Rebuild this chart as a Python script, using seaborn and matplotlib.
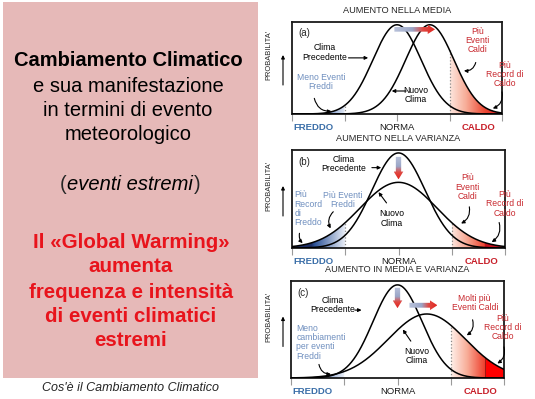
import numpy as np
import matplotlib
matplotlib.use("Agg")
import matplotlib.pyplot as plt
import seaborn as sns
from matplotlib.patches import FancyArrow, Polygon, Rectangle, FancyArrowPatch
from matplotlib.colors import LinearSegmentedColormap

# ---------------- data ----------------
panel_tags = ["(a)", "(b)", "(c)"]
panel_titles = ["AUMENTO NELLA MEDIA", "AUMENTO NELLA VARIANZA", "AUMENTO IN MEDIA E VARIANZA"]
old_mean = [0.0, 0.0, 0.0]
old_sd = [0.92, 1.0, 0.92]
old_peak = [0.97, 0.97, 0.96]
new_mean = [1.25, 0.0, 1.1]
new_sd = [0.92, 1.45, 1.45]
new_peak = [0.97, 0.67, 0.66]
tick_pos = [-4, -2, 0, 2, 4]
axis_words = ["FREDDO", "NORMA", "CALDO"]
axis_word_x = [-3.2, 0.0, 3.1]

left_black = ["Cambiamento Climatico", "e sua manifestazione", "in termini di evento", "meteorologico"]
left_italic = "eventi estremi"
left_red = ["Il «Global Warming»", "aumenta", "frequenza e intensità", "di eventi climatici", "estremi"]
caption = "Cos'è il Cambiamento Climatico"

# ---------------- style ----------------
sns.set_style("white")
plt.rcParams["font.family"] = ["Liberation Sans", "DejaVu Sans"]

W, H = 535, 399
fig = plt.figure(figsize=(W / 100, H / 100), dpi=100)
fig.patch.set_facecolor("white")


def fx(px):
    return px / W


def fy(py):
    return 1 - py / H


# ---------------- left panel ----------------
fig.patches.append(Rectangle((fx(3), fy(378)), fx(255), 376 / H, transform=fig.transFigure,
                             facecolor="#e6b9b8", edgecolor="none", zorder=0))
black_y = [61, 86, 110, 135]
for i, s in enumerate(left_black):
    fig.text(fx(128), fy(black_y[i]), s, ha="center", va="center", fontsize=14.5,
             fontweight="bold" if i == 0 else "normal", color="black")
renderer = fig.canvas.get_renderer()
ti = fig.text(fx(130), fy(185), left_italic, ha="center", va="center", fontsize=14.5,
              style="italic", color="black")
bb = ti.get_window_extent(renderer)
fig.text(bb.x0 / W - 0.002, fy(185), "(", ha="right", va="center", fontsize=14.5)
fig.text(bb.x1 / W + 0.002, fy(185), ")", ha="left", va="center", fontsize=14.5)
red_y = [242, 267, 292, 317, 341]
for i, s in enumerate(left_red):
    fig.text(fx(131), fy(red_y[i]), s, ha="center", va="center", fontsize=14.8,
             fontweight="bold", color="#e8141c")
fig.text(fx(130), fy(388), caption, ha="center", va="center", fontsize=9, style="italic")

# ---------------- right panels ----------------
boxes = [(292, 502, 22, 114), (292, 505, 150, 248), (291, 504, 281, 378)]

RED_T = "#c8282e"
BLUE_T = "#6f8fbf"
x = np.linspace(-4, 4, 801)


def grad_fill(ax, xs, ys, x0, x1, stops):
    m = (xs >= x0) & (xs <= x1)
    px = np.concatenate([[x0], xs[m], [x1]])
    py = np.concatenate([[0], ys[m], [0]])
    poly = Polygon(np.column_stack([px, py]), closed=True, facecolor="none", edgecolor="none",
                   transform=ax.transData)
    ax.add_patch(poly)
    cmap = LinearSegmentedColormap.from_list("g", stops)
    grad = np.linspace(0, 1, 512).reshape(1, -1)
    im = ax.imshow(grad, extent=[x0, x1, 0, 1], aspect="auto", cmap=cmap, origin="lower",
                   zorder=1, interpolation="bilinear")
    im.set_clip_path(poly)


def grad_arrow(ax, x0, y0, dx, dy, width, hw, hl):
    arr = FancyArrow(x0, y0, dx, dy, width=width, head_width=hw, head_length=hl,
                     length_includes_head=True, facecolor="none", edgecolor="none",
                     transform=ax.transData)
    ax.add_patch(arr)
    cmap = LinearSegmentedColormap.from_list("ar", [(0, "#b9c2da"), (0.45, "#9aa6c8"),
                                                    (0.7, "#e04a44"), (1, "#e0261f")])
    if dy == 0:
        grad = np.linspace(0, 1, 256).reshape(1, -1)
        ext = [x0, x0 + dx, y0 - hw / 2, y0 + hw / 2]
    else:
        grad = np.linspace(1, 0, 256).reshape(-1, 1)
        ext = [x0 - hw / 2, x0 + hw / 2, y0 + dy, y0]
    im = ax.imshow(grad, extent=ext, aspect="auto", cmap=cmap, origin="lower", zorder=5)
    im.set_clip_path(arr)


def note(ax, s, xy, color="black", ha="center", fs=6.2):
    ax.text(xy[0], xy[1], s, ha=ha, va="center", fontsize=fs, color=color,
            linespacing=1.05, clip_on=False, zorder=6)


def arrow(ax, tail, head, rad=0.0):
    ax.annotate("", xy=head, xytext=tail,
                arrowprops=dict(arrowstyle="-|>", color="black", lw=0.8, mutation_scale=5,
                                shrinkA=0, shrinkB=0, connectionstyle=f"arc3,rad={rad}"),
                annotation_clip=False, zorder=6)


axes = []
for i in range(3):
    l, r, t, b = boxes[i]
    ax = fig.add_axes([fx(l), fy(b), (r - l) / W, (b - t) / H])
    axes.append(ax)
    y_old = old_peak[i] * np.exp(-((x - old_mean[i]) ** 2) / (2 * old_sd[i] ** 2))
    y_new = new_peak[i] * np.exp(-((x - new_mean[i]) ** 2) / (2 * new_sd[i] ** 2))

    if i == 0:
        grad_fill(ax, x, y_old, -4, -2, [(0, "#24498f"), (0.55, "#4a70b2"), (1, "#e3eaf5")])
        grad_fill(ax, x, y_new, 2, 4, [(0, "#fde6de"), (0.3, "#f7ad98"), (0.65, "#ec4a36"),
                                       (1, "#d2101a")])
        ax.plot([2, 2], [0, np.interp(2, x, y_new)], ls=":", color="#8a8a8a", lw=0.9, zorder=2)
        ax.plot([-2, -2], [0, np.interp(-2, x, y_old)], ls=":", color="#8a8a8a", lw=0.9, zorder=2)
    elif i == 1:
        grad_fill(ax, x, y_new, -4, -2, [(0, "#1a2b60"), (0.36, "#1d2f66"), (0.42, "#2e5499"),
                                         (1, "#eef2f9")])
        grad_fill(ax, x, y_new, 2, 4, [(0, "#fde4dc"), (0.3, "#f6a28c"), (0.6, "#ec4432"),
                                       (0.62, "#c4101c"), (1, "#c4101c")])
        for xv in (-2, 2):
            ax.plot([xv, xv], [0, np.interp(xv, x, y_new)], ls=":", color="#8a8a8a", lw=0.9, zorder=2)
    else:
        grad_fill(ax, x, y_old, -4, -2, [(0, "#2f5597"), (0.5, "#5b7fbf"), (1, "#eef2f9")])
        grad_fill(ax, x, y_new, 2, 4, [(0, "#fff0ea"), (0.3, "#f8ad98"), (0.64, "#ee3a28"),
                                       (0.645, "#ff0000"), (1, "#ff0000")])
        ax.plot([2, 2], [0, np.interp(2, x, y_new)], ls=":", color="#8a8a8a", lw=0.9, zorder=2)
        ax.plot([3.3, 3.3], [0, np.interp(3.3, x, y_new)], ls="-", color="#7a1010", lw=0.5, zorder=2)

    sns.lineplot(x=x, y=y_old, ax=ax, color="black", lw=1.1, zorder=4)
    sns.lineplot(x=x, y=y_new, ax=ax, color="black", lw=1.1, zorder=4)

    ax.set_xlim(-4, 4)
    ax.set_ylim(0, 1)
    ax.set_xticks(tick_pos)
    ax.set_xticklabels([])
    ax.set_yticks([])
    ax.set_xlabel("")
    ax.set_ylabel("")
    ax.tick_params(axis="x", direction="out", length=5, width=0.8, color="#9a9a9a", bottom=True)
    for sp in ax.spines.values():
        sp.set_color("#1a1a1a")
        sp.set_linewidth(1.3)
        sp.set_visible(True)
    ax.set_facecolor("white")

    # axis words
    for j, w in enumerate(axis_words):
        c = ["#3a6ea8", "#1a1a1a", "#c8202a"][j]
        ax.annotate(w, xy=(axis_word_x[j], 0), xycoords="data", xytext=(0, -10),
                    textcoords="offset points", ha="center", va="center", fontsize=6.8,
                    fontweight="normal" if j == 1 else "bold", color=c, annotation_clip=False)
    ax.annotate(panel_titles[i], xy=(0.5, 1), xycoords="axes fraction", xytext=(0, 8),
                textcoords="offset points", ha="center", va="center", fontsize=6.6,
                annotation_clip=False)
    ax.text(-3.75, 0.88, panel_tags[i], ha="left", va="center", fontsize=7, clip_on=False)

    # y label
    cy = (t + b) / 2
    fig.text(fx(269), fy(cy - 13), "PROBABILITA'", rotation=90, ha="center", va="center", fontsize=5.4)
    fig.add_artist(FancyArrowPatch((fx(283), fy(cy + 17)), (fx(283), fy(cy - 13)),
                                   transform=fig.transFigure, arrowstyle="-|>",
                                   mutation_scale=5, lw=0.8, color="black", shrinkA=0, shrinkB=0))

# ----- panel (a) annotations -----
ax = axes[0]
grad_arrow(ax, -0.1, 0.92, 1.55, 0, 0.05, 0.1, 0.28)
note(ax, "Clima\nPrecedente", (-2.75, 0.67))
arrow(ax, (-1.85, 0.61), (-1.1, 0.61))
note(ax, "Meno Eventi\nFreddi", (-2.9, 0.35), color=BLUE_T)
arrow(ax, (-3.15, 0.17), (-2.5, 0.03), rad=0.4)
note(ax, "Nuovo\nClima", (0.72, 0.21))
arrow(ax, (0.35, 0.25), (-0.2, 0.25))
note(ax, "Più\nEventi\nCaldi", (3.08, 0.80), color=RED_T)
arrow(ax, (3.0, 0.56), (2.55, 0.47), rad=-0.4)
note(ax, "Più\nRecord di\nCaldo", (4.1, 0.43), color=RED_T)
arrow(ax, (4.0, 0.24), (3.65, 0.06), rad=-0.4)

# ----- panel (b) annotations -----
ax = axes[1]
grad_arrow(ax, 0.0, 0.93, 0, -0.23, 0.2, 0.36, 0.08)
note(ax, "Clima\nPrecedente", (-2.05, 0.86))
arrow(ax, (-1.0, 0.82), (-0.65, 0.82))
note(ax, "Più Eventi\nFreddi", (-2.1, 0.49), color=BLUE_T)
arrow(ax, (-2.45, 0.37), (-2.55, 0.20), rad=0.35)
note(ax, "Più\nRecord\ndi\nFreddo", (-3.92, 0.40), color=BLUE_T, ha="left")
arrow(ax, (-3.72, 0.15), (-3.6, 0.05), rad=0.25)
note(ax, "Nuovo\nClima", (-0.27, 0.30))
arrow(ax, (-0.45, 0.46), (-0.75, 0.57))
note(ax, "Più\nEventi\nCaldi", (2.6, 0.62), color=RED_T)
arrow(ax, (2.66, 0.42), (2.35, 0.25), rad=-0.35)
note(ax, "Più\nRecord di\nCaldo", (4.0, 0.45), color=RED_T)
arrow(ax, (3.78, 0.26), (3.5, 0.06), rad=-0.35)

# ----- panel (c) annotations -----
ax = axes[2]
grad_arrow(ax, 0.0, 0.93, 0, -0.21, 0.2, 0.36, 0.08)
grad_arrow(ax, 0.45, 0.75, 1.05, 0, 0.05, 0.1, 0.28)
note(ax, "Clima\nPrecedente", (-2.42, 0.75))
arrow(ax, (-1.6, 0.70), (-1.35, 0.70))
note(ax, "Meno\ncambiamenti\nper eventi\nFreddi", (-3.8, 0.37), color=BLUE_T, ha="left")
arrow(ax, (-2.95, 0.14), (-2.5, 0.04), rad=0.4)
note(ax, "Nuovo\nClima", (0.72, 0.23))
arrow(ax, (0.5, 0.38), (0.2, 0.50))
note(ax, "Molti più\nEventi Caldi", (2.9, 0.77), color=RED_T)
arrow(ax, (2.82, 0.60), (2.6, 0.44), rad=-0.35)
note(ax, "Più\nRecord di\nCaldo", (3.95, 0.52), color=RED_T)
arrow(ax, (4.0, 0.32), (3.75, 0.15), rad=-0.35)

fig.savefig("out.png", dpi=100, facecolor="white")
